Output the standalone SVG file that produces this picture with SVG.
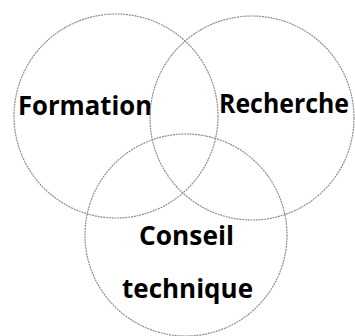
<svg xmlns="http://www.w3.org/2000/svg" width="355" height="336" viewBox="0 0 355 336">
<style>
.c{fill:none;stroke:#8e8e8e;stroke-width:1.2;stroke-dasharray:2 0.8}
.t{font-family:"Open Sans","Liberation Sans",sans-serif;font-weight:bold;font-size:27px;fill:#000}
</style>
<rect width="355" height="336" fill="#fff"/>
<g id="formation">
<circle class="c" cx="116" cy="116" r="102"/>
<text class="t" x="18" y="115" textLength="134" lengthAdjust="spacingAndGlyphs">Formation</text>
</g>
<g id="recherche">
<circle class="c" cx="252" cy="118" r="102"/>
<text class="t" x="349" y="113" text-anchor="end" style="font-size:26px" textLength="130" lengthAdjust="spacingAndGlyphs">Recherche</text>
</g>
<g id="conseil">
<circle class="c" cx="186" cy="235" r="101"/>
<text class="t" x="139" y="245" textLength="95" lengthAdjust="spacingAndGlyphs">Conseil</text>
<text class="t" x="122" y="298" textLength="131" lengthAdjust="spacingAndGlyphs">technique</text>
</g>
<g id="connectors"/>
</svg>
